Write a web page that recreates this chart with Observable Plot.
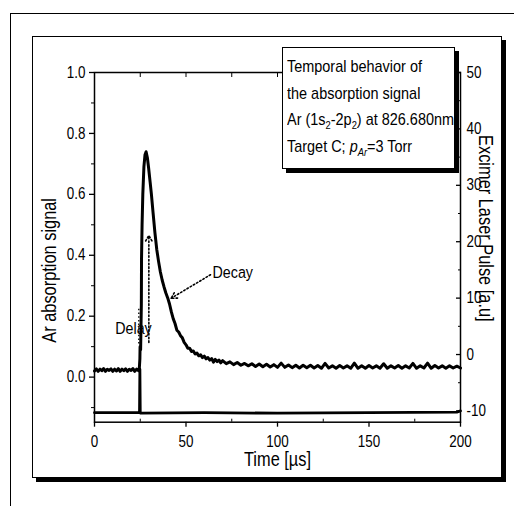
<!DOCTYPE html>
<html><head><meta charset="utf-8">
<script src="https://cdn.jsdelivr.net/npm/d3@7"></script>
<script src="https://cdn.jsdelivr.net/npm/@observablehq/plot@0.6"></script>
<style>
body{margin:0;background:#fff;}
#wrap{position:relative;width:514px;height:506px;overflow:hidden;font-family:"Liberation Sans",Arial,sans-serif;}
.outer{position:absolute;left:10px;top:13px;width:520px;height:520px;border-left:1.5px solid #000;border-top:1.5px solid #000;}
.inner{position:absolute;left:32px;top:36px;width:468px;height:440px;border:1.5px solid #000;box-shadow:4px 4px 0 #000;}
#chart{position:absolute;left:0;top:0;}
.legend{position:absolute;left:282px;top:47px;width:167px;height:114px;border:1.5px solid #000;box-shadow:4px 4px 0 #000;background:#fff;padding:6px 0 0 4px;font-size:17px;line-height:26.5px;color:#000;white-space:nowrap;}
.legend span{display:inline-block;transform:scaleX(0.85);transform-origin:0 50%;}
.legend sub{font-size:11px;line-height:0;}
</style></head>
<body>
<div id="wrap">
  <div class="outer"></div>
  <div class="inner"></div>
  <div id="chart"></div>
  <div class="legend">
    <div><span>Temporal behavior of</span></div>
    <div><span>the absorption signal</span></div>
    <div><span>Ar (1s<sub>2</sub>-2p<sub>2</sub>) at 826.680nm</span></div>
    <div><span>Target C; <i>p</i><sub><i>Ar</i></sub>=3 Torr</span></div>
  </div>
</div>
<script>
// Absorption signal (left axis)
const absTime = [0,1,2,3,4,5,6,7,8,9,10,11,12,13,14,15,16,17,18,19,20,21,22,23,24,
  24.5,24.8,24.9,25.2,25.6,25.7,26.0,26.4,27.0,27.6,28.2,28.9,29.6,30.4,31.1,32,33,34,35,36,37,38,39,40,41,42,43,
  44,45,46,47,48,49,50,51,52,53,54,55,56,57,58,59,60,61,62,63,64,65,66,67,68,69,70,
  72,74,76,78,80,82,84,86,88,90,92,94,96,98,100,102,104,106,108,110,112,114,116,118,120,
  122,124,126,128,130,132,134,136,138,140,142,144,146,148,150,152,154,156,158,160,
  162,164,166,168,170,172,174,176,178,180,182,184,186,188,190,192,194,196,198,200];
const absSignal = [0.020,0.027,0.019,0.026,0.021,0.028,0.019,0.026,0.022,0.027,0.019,0.026,0.020,0.028,0.019,0.026,0.021,0.027,0.019,0.026,0.022,0.028,0.019,0.026,0.021,
  0.030,0.060,0.100,0.090,0.240,0.390,0.500,0.600,0.690,0.730,0.740,0.720,0.685,0.640,0.600,0.540,0.475,0.420,0.380,0.345,0.318,0.296,0.276,0.260,0.240,0.214,0.192,
  0.176,0.154,0.148,0.136,0.129,0.114,0.106,0.095,0.095,0.084,0.086,0.076,0.079,0.070,0.073,0.064,0.069,0.060,0.064,0.056,0.061,0.049,0.058,0.051,0.056,0.047,0.054,
  0.044,0.050,0.041,0.048,0.039,0.045,0.037,0.044,0.035,0.043,0.034,0.042,0.033,0.041,0.032,0.046,0.032,0.040,0.031,0.039,0.030,0.039,0.031,0.039,0.030,
  0.038,0.029,0.045,0.030,0.037,0.029,0.038,0.030,0.037,0.029,0.046,0.029,0.037,0.029,0.038,0.030,0.037,0.029,0.044,0.029,
  0.037,0.030,0.038,0.029,0.037,0.030,0.045,0.029,0.037,0.030,0.046,0.029,0.038,0.030,0.037,0.029,0.037,0.030,0.036,0.030];

// Excimer laser pulse (right axis, a.u.)
const laserTime = [0,24.6,24.8,25.0,25.2,60,100,150,198,200];
const laserPulse = [-10.3,-10.3,-2.6,-10.3,-10.4,-10.3,-10.4,-10.3,-10.2,-10.0];

// Axis ticks
const xTicks = [0,50,100,150,200];
const xMinor = [25,75,125,175];
const yTicks = [0,0.2,0.4,0.6,0.8,1.0];
const yMinor = [-0.1,0.1,0.3,0.5,0.7,0.9];
const rightTicks = [-10,0,10,20,30,40,50];
const rightMinor = [-5,5,15,25,35,45];

// Right axis (a.u.) -> left axis units: 50 a.u. at 1.0
const auStep = 0.018517;
const toLeft = r => 1 - (50 - r) * auStep;
const fromLeft = v => Math.round((v - 1) / auStep + 50);

const absData = absTime.map((t, i) => ({t, v: absSignal[i]}));
const laserData = laserTime.map((t, i) => ({t, v: toLeft(laserPulse[i])}));

const FONT = '"Liberation Sans",Arial,sans-serif';
const blank = () => "";

const chart = Plot.plot({
  width: 514, height: 506,
  marginLeft: 94, marginRight: 54, marginTop: 72, marginBottom: 84.3,
  style: {fontFamily: FONT, fontSize: "16px", color: "#000", background: "transparent"},
  x: {domain: [0, 200]},
  y: {domain: [-0.148, 1.0]},
  marks: [
    Plot.frame({stroke: "#000", strokeWidth: 1.5}),
    // left axis
    Plot.axisY({anchor: "left", ticks: yTicks, tickSize: 5, tickPadding: 4, tickFormat: d3.format(".1f"), label: null, strokeWidth: 1.3, fontSize: 16}),
    Plot.axisY({anchor: "left", ticks: yMinor, tickSize: 3, tickFormat: blank, label: null}),
    // right axis
    Plot.axisY({anchor: "right", ticks: rightTicks.map(toLeft), tickSize: -5, tickPadding: 11, tickFormat: fromLeft, label: null, strokeWidth: 1.3, fontSize: 16}),
    Plot.axisY({anchor: "right", ticks: rightMinor.map(toLeft), tickSize: -3, tickFormat: blank, label: null}),
    // bottom axis
    Plot.axisX({anchor: "bottom", ticks: xTicks, tickSize: 5, tickPadding: 8, tickFormat: d => d, label: null, strokeWidth: 1.3, fontSize: 16}),
    Plot.axisX({anchor: "bottom", ticks: xMinor, tickSize: -3, tickFormat: blank, label: null}),
    // top ticks (inward)
    Plot.axisX({anchor: "top", ticks: xTicks.concat(xMinor), tickSize: -4, tickFormat: blank, label: null}),
    // traces
    Plot.line(laserData, {x: "t", y: "v", stroke: "#000", strokeWidth: 2.8}),
    Plot.line(absData, {x: "t", y: "v", stroke: "#000", strokeWidth: 3, strokeLinejoin: "round"}),
    // annotations
    Plot.arrow([{x1: 29.7, y1: 0.114, x2: 29.7, y2: 0.465}], {x1: "x1", y1: "y1", x2: "x2", y2: "y2", stroke: "#000", strokeWidth: 1.6, strokeDasharray: "1.5,2.2", headLength: 6}),
    Plot.link([{x1: 24.2, y1: 0.11, x2: 24.2, y2: 0.23}], {x1: "x1", y1: "y1", x2: "x2", y2: "y2", stroke: "#000", strokeWidth: 1.3, strokeDasharray: "1.5,2.2"}),
    Plot.arrow([{x1: 63.4, y1: 0.336, x2: 41.9, y2: 0.259}], {x1: "x1", y1: "y1", x2: "x2", y2: "y2", stroke: "#000", strokeWidth: 1.6, strokeDasharray: "1.5,2.2", headLength: 6}),
    Plot.text(["Delay"], {x: 21.3, y: 0.16, text: d => d, fontSize: 17, fill: "#000"}),
    Plot.text(["Decay"], {x: 64.5, y: 0.343, text: d => d, fontSize: 17, textAnchor: "start", fill: "#000"}),
    // axis titles
    Plot.text(["Ar absorption signal"], {frameAnchor: "left", textAnchor: "middle", text: d => d, rotate: -90, dx: -45, dy: 23, fontSize: 19.5, fill: "#000"}),
    Plot.text(["Excimer Laser Pulse [a.u]"], {frameAnchor: "right", textAnchor: "middle", text: d => d, rotate: 90, dx: 25, dy: -19, fontSize: 19.5, fill: "#000"}),
    Plot.text(["Time [µs]"], {frameAnchor: "bottom", textAnchor: "middle", text: d => d, dy: 44, fontSize: 19.5, fill: "#000"})
  ]
});

// Narrow the sans-serif glyphs horizontally (Arial Narrow look), keeping each text's anchor point
chart.querySelectorAll("text").forEach(el => {
  const tr = el.getAttribute("transform");
  if (tr) {
    el.setAttribute("transform", tr + " scale(0.84,1)");
  } else {
    const x = +(el.getAttribute("x") || 0), y = +(el.getAttribute("y") || 0);
    el.removeAttribute("x"); el.removeAttribute("y");
    el.setAttribute("transform", `translate(${x},${y}) scale(0.84,1)`);
  }
});

document.getElementById("chart").appendChild(chart);
</script>
</body></html>
